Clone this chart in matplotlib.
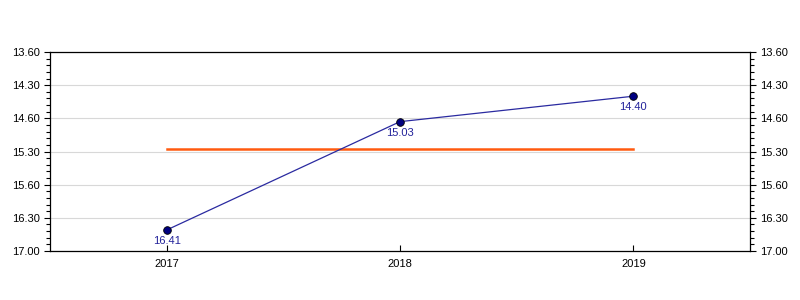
import numpy as np
import matplotlib.pyplot as plt
from matplotlib.ticker import MultipleLocator

plt.rcParams['font.family'] = ['Liberation Sans', 'DejaVu Sans']

# Data: times in minutes and seconds
years = ['2017', '2018', '2019']
minutes = [16, 15, 14]
seconds = [41, 3, 40]
point_labels = ['16.41', '15.03', '14.40']

# y ticks (minutes) and their labels as shown
ytick_vals = [14.0, 14.5, 15.0, 15.5, 16.0, 16.5, 17.0]
ytick_labels = ['13.60', '14.30', '14.60', '15.30', '15.60', '16.30', '17.00']

values = np.array(minutes) + np.array(seconds) / 60.0
mean_val = values.mean()
x = np.arange(len(years))

fig = plt.figure(figsize=(8, 3), dpi=100)
ax = fig.add_axes([0.0625, 0.1633, 0.875, 0.6634])

ax.plot(x, values, color='#2a2aa0', linewidth=0.9, zorder=3)
ax.plot(x, values, 'o', color='#000080', markeredgecolor='black',
        markeredgewidth=0.6, markersize=5.5, zorder=4)
ax.plot([x[0], x[-1]], [mean_val, mean_val], color='#ff5a10', linewidth=1.8, zorder=2)

for xi, v, lab in zip(x, values, point_labels):
    ax.annotate(lab, (xi, v), xytext=(0, -4.5), textcoords='offset points',
                ha='center', va='top', fontsize=8, color='#22229a', zorder=5)

ax.set_xlim(-0.5, 2.5)
ax.set_ylim(17.0, 14.0)
ax.set_xticks(x)
ax.set_xticklabels(years, fontsize=8)
ax.set_yticks(ytick_vals)
ax.set_yticklabels(ytick_labels, fontsize=8)
ax.yaxis.set_minor_locator(MultipleLocator(0.1))
ax.tick_params(axis='y', which='both', left=True, right=True,
               labelleft=True, labelright=True, direction='out')
ax.tick_params(axis='y', which='major', length=4, width=0.8)
ax.tick_params(axis='y', which='minor', length=3, width=0.8)
ax.tick_params(axis='x', which='major', direction='in', length=4, width=0.8, pad=5.5)

ax.grid(axis='y', color='#d8d8d8', linewidth=0.8)
ax.set_axisbelow(True)
for s in ax.spines.values():
    s.set_linewidth(0.9)

fig.savefig('out.png', dpi=100)
